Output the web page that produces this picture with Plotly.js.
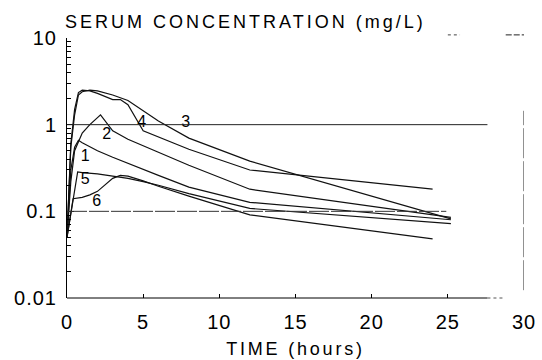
<!DOCTYPE html>
<html>
<head>
<meta charset="utf-8">
<script src="https://cdn.plot.ly/plotly-3.0.1.min.js"></script>
<style>
html, body { margin: 0; padding: 0; background: #fff; }
#chart { width: 542px; height: 360px; }
.gtitle { letter-spacing: 3px; }
.g-xtitle text { letter-spacing: 2.8px; }
.xtick text, .ytick text { letter-spacing: 1px; }
</style>
</head>
<body>
<div id="chart"></div>
<script>
// ---- data ----
const t1 = [0, 0.25, 0.5, 0.75, 1, 2, 3, 4, 6, 8, 12, 25.2];
const c1 = [0.05, 0.3, 0.55, 0.66, 0.62, 0.5, 0.42, 0.36, 0.26, 0.19, 0.127, 0.08];

const t2 = [0, 0.25, 0.5, 1, 1.5, 2.2, 3, 4, 6, 8, 12, 25.2];
const c2 = [0.05, 0.22, 0.5, 0.8, 1.0, 1.3, 0.85, 0.68, 0.48, 0.34, 0.18, 0.085];

const t3 = [0, 0.25, 0.5, 0.75, 1, 1.5, 2, 3, 4, 5, 6, 8, 12, 25.2];
const c3 = [0.05, 0.55, 1.3, 2.2, 2.4, 2.5, 2.45, 2.2, 1.9, 1.45, 1.1, 0.7, 0.38, 0.082];

const t4 = [0, 0.25, 0.5, 0.75, 1, 1.5, 2, 3, 3.5, 4, 5, 6, 8, 12, 24];
const c4 = [0.05, 0.6, 1.5, 2.35, 2.5, 2.45, 2.3, 1.95, 1.95, 1.7, 0.85, 0.72, 0.52, 0.3, 0.18];

const t5 = [0, 0.4, 0.7, 1, 2, 3, 4, 5, 6, 8, 12, 25.2];
const c5 = [0.05, 0.14, 0.285, 0.28, 0.27, 0.255, 0.24, 0.22, 0.2, 0.16, 0.108, 0.072];

const t6 = [0, 0.4, 1, 1.5, 2, 2.5, 3, 3.5, 4, 5, 6, 8, 12, 24];
const c6 = [0.05, 0.14, 0.145, 0.155, 0.17, 0.2, 0.24, 0.26, 0.255, 0.225, 0.195, 0.15, 0.091, 0.048];

const curveNames = ['1', '2', '3', '4', '5', '6'];
const labelT = [1.2, 2.6, 7.8, 4.9, 1.2, 1.95];
const labelC = [0.42, 0.75, 1.05, 1.05, 0.228, 0.128];

const yTickVals = [0.01, 0.1, 1, 10];
const yTickText = ['0.01', '0.1', '1', '10'];
const xTickVals = [0, 5, 10, 15, 20, 25, 30];
const xTickText = ['0', '5', '10', '15', '20', '25', '30'];
const yMinorVals = [0.02,0.03,0.04,0.05,0.06,0.07,0.08,0.09,
                    0.2,0.3,0.4,0.5,0.6,0.7,0.8,0.9,
                    2,3,4,5,6,7,8,9];

const titleText = 'SERUM CONCENTRATION (mg/L)';
const xTitleText = 'TIME (hours)';

// ---- traces ----
const series = [[t1,c1],[t2,c2],[t3,c3],[t4,c4],[t5,c5],[t6,c6]];
const FONT = 'Liberation Sans, Arial, Helvetica, sans-serif';
const data = series.map((s, i) => ({
  type: 'scatter', mode: 'lines', x: s[0], y: s[1], name: curveNames[i],
  line: { color: '#111', width: 1.2 }, hoverinfo: 'skip', showlegend: false
}));
data.push({
  type: 'scatter', mode: 'text', x: labelT, y: labelC, text: curveNames,
  textfont: { family: FONT, size: 16, color: '#000' },
  textposition: 'middle center', hoverinfo: 'skip', showlegend: false
});

const layout = {
  width: 542, height: 360,
  margin: { l: 67, r: 18, t: 38, b: 62 },
  paper_bgcolor: '#fff', plot_bgcolor: '#fff',
  font: { family: FONT, color: '#000' },
  title: {
    text: titleText, font: { family: FONT, size: 18, color: '#000' },
    x: 65 / 542, xref: 'container', xanchor: 'left',
    y: 1 - 22 / 360, yref: 'container', yanchor: 'middle'
  },
  xaxis: {
    range: [0, 30], showgrid: false, zeroline: false, showline: false,
    tickmode: 'array', tickvals: xTickVals, ticktext: xTickText,
    ticks: 'inside', ticklen: 4, tickcolor: '#000', tickwidth: 1,
    ticklabelstandoff: 10,
    tickfont: { family: FONT, size: 20, color: '#000' },
    title: { text: xTitleText, font: { family: FONT, size: 18, color: '#000' }, standoff: 10 }
  },
  yaxis: {
    type: 'log', range: [-2, 1], showgrid: false, zeroline: false,
    showline: true, linecolor: '#000', linewidth: 1,
    tickmode: 'array', tickvals: yTickVals, ticktext: yTickText,
    ticks: 'inside', ticklen: 7, tickcolor: '#000', tickwidth: 1,
    ticklabelstandoff: 5,
    tickfont: { family: FONT, size: 20, color: '#000' },
    minor: {
      tickmode: 'array', tickvals: yMinorVals,
      ticks: 'inside', ticklen: 4, tickcolor: '#000', tickwidth: 1, showgrid: false
    }
  },
  shapes: [
    // x axis line (stops short of 30 as in the original)
    { type: 'line', xref: 'x', yref: 'paper', x0: 0, x1: 27.6, y0: 0, y1: 0, line: { color: '#000', width: 1 } },
    { type: 'line', xref: 'x', yref: 'paper', x0: 27.6, x1: 28.6, y0: 0, y1: 0, line: { color: '#555', width: 1, dash: 'dot' } },
    // reference lines at 1 and 0.1
    { type: 'line', xref: 'x', yref: 'paper', x0: 0, x1: 27.6, y0: 2/3, y1: 2/3, line: { color: '#222', width: 1 } },
    { type: 'line', xref: 'x', yref: 'paper', x0: 0, x1: 24.9, y0: 1/3, y1: 1/3, line: { color: '#333', width: 1, dash: '20px,2px' } },
    // broken right frame
    { type: 'line', xref: 'x', yref: 'paper', x0: 30, x1: 30, y0: 0.03, y1: 0.72, line: { color: '#222', width: 1, dash: '30px,3px' } },
    { type: 'line', xref: 'x', yref: 'paper', x0: 25, x1: 25.8, y0: 1.012, y1: 1.012, line: { color: '#444', width: 1, dash: 'dot' } },
    { type: 'line', xref: 'x', yref: 'paper', x0: 28.8, x1: 30.1, y0: 1.012, y1: 1.012, line: { color: '#222', width: 1, dash: '6px,2px' } }
  ],
  showlegend: false
};

Plotly.newPlot('chart', data, layout, { staticPlot: true, displayModeBar: false });
</script>
</body>
</html>
